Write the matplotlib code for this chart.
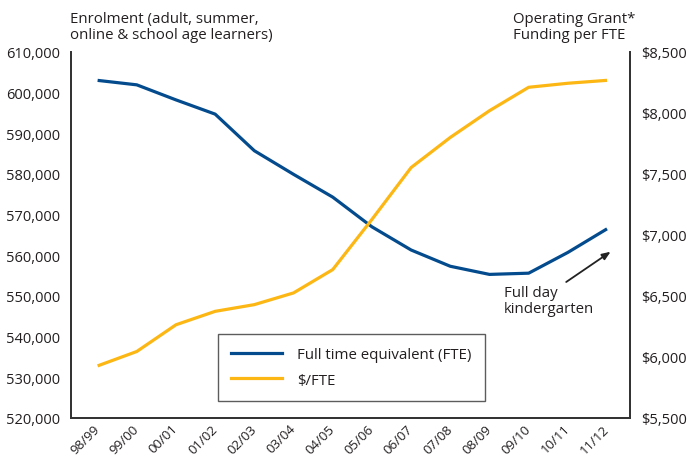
import matplotlib.pyplot as plt
from matplotlib.lines import Line2D

# Data
years = ["98/99", "99/00", "00/01", "01/02", "02/03", "03/04", "04/05",
         "05/06", "06/07", "07/08", "08/09", "09/10", "10/11", "11/12"]
fte = [603000, 601900, 598200, 594700, 585700, 579900, 574300,
       567000, 561300, 557300, 555300, 555600, 560700, 566500]
per_fte = [5927, 6045, 6264, 6374, 6429, 6525, 6716,
           7127, 7552, 7799, 8018, 8210, 8243, 8267]

left_ticks = list(range(520000, 610001, 10000))
right_ticks = list(range(5500, 8501, 500))

BLUE = "#034b8d"
YELLOW = "#fcb714"
TXT = "#231f20"
plt.rcParams["font.family"] = ["Open Sans", "DejaVu Sans"]

fig = plt.figure(figsize=(6.89, 4.64), dpi=100)
ax1 = fig.add_axes([0.103, 0.097, 0.811, 0.789])
ax2 = ax1.twinx()

x = list(range(len(years)))
ax1.plot(x, fte, color=BLUE, lw=2.3, solid_joinstyle="round", solid_capstyle="butt")
ax2.plot(x, per_fte, color=YELLOW, lw=2.3, solid_joinstyle="round", solid_capstyle="butt")

ax1.set_xlim(-0.68, 13.58)
ax1.set_ylim(520000, 610000)
ax2.set_ylim(5500, 8500)

ax1.set_yticks(left_ticks)
ax1.set_yticklabels([f"{v:,}" for v in left_ticks])
ax2.set_yticks(right_ticks)
ax2.set_yticklabels([f"${v:,}" for v in right_ticks])
ax1.set_xticks(x)
ax1.set_xticklabels(years, rotation=45, ha="right", va="center", rotation_mode="anchor")

for ax in (ax1, ax2):
    ax.tick_params(length=0, labelsize=10.5, colors=TXT, pad=8)
    ax.spines["top"].set_visible(False)
    for s in ("left", "right", "bottom"):
        ax.spines[s].set_color("#333333")
        ax.spines[s].set_linewidth(1.3)
ax1.tick_params(axis="x", pad=6, labelsize=9.5)

fig.text(0.102, 0.975, "Enrolment (adult, summer,\nonline & school age learners)",
         ha="left", va="top", fontsize=10.8, color=TXT, linespacing=1.1)
fig.text(0.745, 0.975, "Operating Grant*\nFunding per FTE",
         ha="left", va="top", fontsize=10.8, color=TXT, linespacing=1.1)

handles = [Line2D([], [], color=BLUE, lw=2.3), Line2D([], [], color=YELLOW, lw=2.3)]
leg = ax2.legend(handles, ["Full time equivalent (FTE)", "$/FTE"],
                 loc="lower left", bbox_to_anchor=(0.263, 0.046), borderaxespad=0,
                 fontsize=10.8, frameon=True, fancybox=False, handlelength=3.4,
                 handletextpad=1.0, borderpad=0.9, labelspacing=0.7)
leg.get_frame().set_edgecolor("#333333")
leg.get_frame().set_linewidth(1.0)
for t in leg.get_texts():
    t.set_color(TXT)

ax1.annotate("", xy=(13.15, 561260), xytext=(11.9, 553050),
             arrowprops=dict(arrowstyle="-|>,head_length=0.5,head_width=0.2",
                             color="#222222", lw=1.3))
ax1.text(10.36, 552800, "Full day\nkindergarten", ha="left", va="top",
         fontsize=10.8, color=TXT, linespacing=1.1)

fig.savefig("out.png", dpi=100)
